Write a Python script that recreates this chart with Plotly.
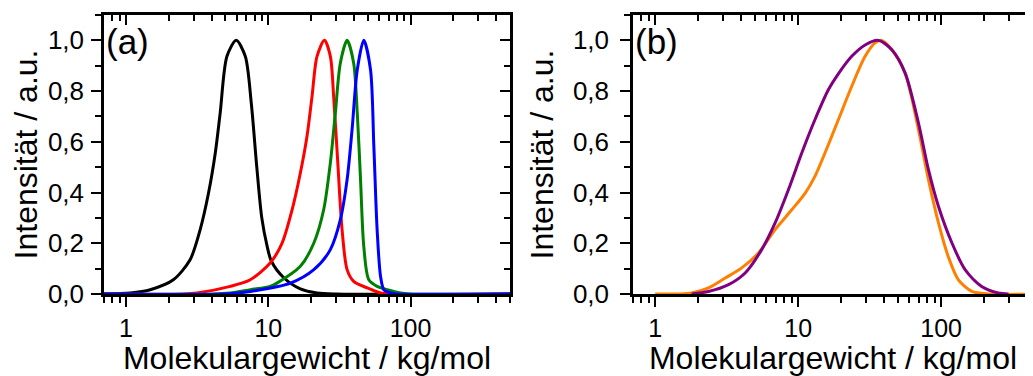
import math
import plotly.graph_objects as go

# ---- data: panel (a) ----
black_x = [0.7, 1.07, 1.48, 2.15, 2.82, 3.32, 3.8, 4.24, 4.59, 5.12, 5.95, 6.89, 7.6, 8.3, 9.0, 9.8, 10.5, 12.8, 16.8, 22.0, 30.0, 500]
black_y = [0.0, 0.004, 0.017, 0.056, 0.135, 0.254, 0.398, 0.556, 0.714, 0.937, 1.0, 0.937, 0.75, 0.5, 0.3, 0.19, 0.13, 0.065, 0.02, 0.004, 0.0, 0.0]

red_x = [0.7, 2.5, 3.15, 5.4, 7.47, 10.3, 12.5, 14.7, 16.8, 18.7, 20.3, 22.0, 24.8, 27.3, 28.8, 30.8, 33.0, 35.8, 39.8, 49.6, 61.5, 70.0, 500]
red_y = [0.0, 0.0, 0.004, 0.03, 0.056, 0.122, 0.201, 0.332, 0.477, 0.621, 0.779, 0.937, 1.0, 0.937, 0.779, 0.517, 0.254, 0.096, 0.05, 0.024, 0.004, 0.0, 0.0]

green_x = [0.7, 4.0, 5.4, 7.47, 10.3, 11.5, 16.8, 20.9, 24.5, 27.3, 29.6, 32.1, 35.8, 39.8, 42.2, 44.5, 46.9, 50.9, 58.2, 68.5, 85.0, 97.0, 500]
green_y = [0.0, 0.0, 0.004, 0.017, 0.03, 0.043, 0.109, 0.201, 0.332, 0.517, 0.714, 0.911, 1.0, 0.911, 0.714, 0.451, 0.188, 0.056, 0.03, 0.017, 0.004, 0.0, 0.0]

blue_x = [0.7, 5.0, 7.47, 14.3, 20.9, 27.3, 32.1, 35.8, 38.8, 42.2, 46.9, 52.3, 55.2, 58.2, 61.5, 64.9, 72.3, 80.0, 500]
blue_y = [0.0, 0.0, 0.01, 0.043, 0.096, 0.175, 0.293, 0.451, 0.648, 0.884, 1.0, 0.884, 0.582, 0.254, 0.07, 0.017, 0.004, 0.0, 0.0]

# ---- data: panel (b) ----
purple_x = [1.8, 2.36, 3.26, 4.26, 5.56, 6.9, 8.55, 10.6, 13.1, 16.3, 19.1, 23.7, 29.4, 36.5, 45.2, 56.0, 69.4, 81.5, 95.8, 119, 147, 192, 251, 296]
purple_y = [0.0, 0.01, 0.037, 0.083, 0.175, 0.28, 0.411, 0.556, 0.687, 0.806, 0.868, 0.937, 0.982, 1.0, 0.963, 0.871, 0.674, 0.49, 0.345, 0.201, 0.096, 0.03, 0.004, 0.0]

orange_x = [1.0, 1.5, 1.8, 2.36, 3.09, 4.03, 5.28, 6.9, 9.02, 11.2, 13.1, 15.4, 19.1, 23.7, 29.4, 34.5, 38.4, 45.2, 56.0, 69.4, 81.5, 95.8, 112, 132, 164, 214, 500]
orange_y = [0.0, 0.0, 0.004, 0.024, 0.063, 0.103, 0.162, 0.254, 0.332, 0.398, 0.464, 0.556, 0.687, 0.819, 0.937, 0.99, 1.0, 0.963, 0.871, 0.648, 0.451, 0.28, 0.148, 0.056, 0.01, 0.0, 0.0]

y_ticks = [0.0, 0.2, 0.4, 0.6, 0.8, 1.0]
x_ticks = [1, 10, 100]
x_tick_text = ["1", "10", "100"]
x_minor = [0.7, 0.8, 0.9, 2, 3, 4, 5, 6, 7, 8, 9, 20, 30, 40, 50, 60, 70, 80, 90, 200, 300, 400, 500]
y_minor = [0.1, 0.3, 0.5, 0.7, 0.9, 1.1]

FONT = "Liberation Sans"
LW = 3

fig = go.Figure()
for xs, ys, col in [(black_x, black_y, "#000000"), (red_x, red_y, "#FF0000"),
                    (green_x, green_y, "#008000"), (blue_x, blue_y, "#0000FF")]:
    fig.add_trace(go.Scatter(x=xs, y=ys, mode="lines", line=dict(color=col, width=LW, shape="spline", smoothing=0.8),
                             xaxis="x", yaxis="y", showlegend=False, hoverinfo="skip"))
for xs, ys, col in [(orange_x, orange_y, "#FF8000"), (purple_x, purple_y, "#800080")]:
    fig.add_trace(go.Scatter(x=xs, y=ys, mode="lines", line=dict(color=col, width=LW, shape="spline", smoothing=0.8),
                             xaxis="x2", yaxis="y2", showlegend=False, hoverinfo="skip"))
# empty traces so overlay axes get drawn
for xa, ya in [("x3", "y"), ("x4", "y2"), ("x", "y3")]:
    fig.add_trace(go.Scatter(x=[], y=[], xaxis=xa, yaxis=ya, showlegend=False))

# page body has an 8px margin: compensate
OFF = 8
W, H = 1033 - OFF, 376 - OFF
ML, MT = 104 - OFF, 15 - OFF
MB = H - (294 - OFF)
PW = W - ML
a_dom = [0, (510 - 104) / PW]
b_dom = [(633 - 104) / PW, 1.0]
lo = math.log10(0.7)
a_range = [lo, math.log10(500)]
b_range = [lo, lo + (1033 - 633) / 143.0]

common_x = dict(type="log", showgrid=False, zeroline=False, showline=True, linecolor="black", linewidth=2.5,
                tickvals=x_ticks, ticktext=x_tick_text, ticklen=10, tickwidth=2.2, tickcolor="black", automargin=False,
                tickfont=dict(family=FONT, size=25, color="black"))
common_y = dict(range=[0, 1.1], showgrid=False, zeroline=False, showline=True, linecolor="black", linewidth=2.5,
                tickvals=y_ticks, tickformat=".1f", ticklen=10, tickwidth=2.2, tickcolor="black", automargin=False,
                tickfont=dict(family=FONT, size=26, color="black"))
xtitle = dict(text="Molekulargewicht / kg/mol", font=dict(family=FONT, size=32, color="black"), standoff=13)
ytitle_a = dict(text="Intensität / a.u.", font=dict(family=FONT, size=32, color="black"), standoff=10)
ytitle_b = dict(text="Intensität / a.u.", font=dict(family=FONT, size=32, color="black"), standoff=10)

minor_out_x = dict(tickvals=x_minor, ticks="outside", ticklen=6, tickwidth=2.2, tickcolor="black")
minor_in_x = dict(tickvals=x_minor, ticks="inside", ticklen=6, tickwidth=2.2, tickcolor="black")
minor_out_y = dict(tickvals=y_minor, ticks="outside", ticklen=6, tickwidth=2.2, tickcolor="black")
minor_in_y = dict(tickvals=y_minor, ticks="inside", ticklen=6, tickwidth=2.2, tickcolor="black")

fig.update_layout(
    width=W, height=H, margin=dict(l=ML, r=0, t=MT, b=MB),
    paper_bgcolor="white", plot_bgcolor="white", separators=",.",
    font=dict(family=FONT, color="black"),
    xaxis=dict(domain=a_dom, range=a_range, anchor="y", ticks="outside", title=xtitle, minor=minor_out_x, **common_x),
    yaxis=dict(domain=[0, 1], anchor="x", ticks="outside", title=ytitle_a, ticklabelstandoff=2, minor=minor_out_y, **common_y),
    xaxis2=dict(domain=b_dom, range=b_range, anchor="y2", ticks="outside", title=xtitle, minor=minor_out_x, **common_x),
    yaxis2=dict(domain=[0, 1], anchor="x2", ticks="outside", title=ytitle_b, ticklabelstandoff=6, minor=minor_out_y, **common_y),
    xaxis3=dict(overlaying="x", side="top", anchor="y", range=a_range, ticks="inside", showticklabels=False,
                minor=minor_in_x, **common_x),
    xaxis4=dict(overlaying="x2", side="top", anchor="y2", range=b_range, ticks="inside", showticklabels=False,
                minor=minor_in_x, **common_x),
    yaxis3=dict(overlaying="y", side="right", anchor="x", ticks="inside", showticklabels=False,
                minor=minor_in_y, **common_y),
)
fig.update_layout(xaxis3=dict(domain=a_dom), xaxis4=dict(domain=b_dom))

fig.add_annotation(text="(a)", xref="x domain", yref="y domain", x=0.0, y=0.905, xanchor="left", yanchor="middle",
                   showarrow=False, font=dict(family=FONT, size=35, color="black"))
fig.add_annotation(text="(b)", xref="x2 domain", yref="y2 domain", x=0.0, y=0.905, xanchor="left", yanchor="middle",
                   showarrow=False, font=dict(family=FONT, size=35, color="black"))

fig.write_html("out.html")
